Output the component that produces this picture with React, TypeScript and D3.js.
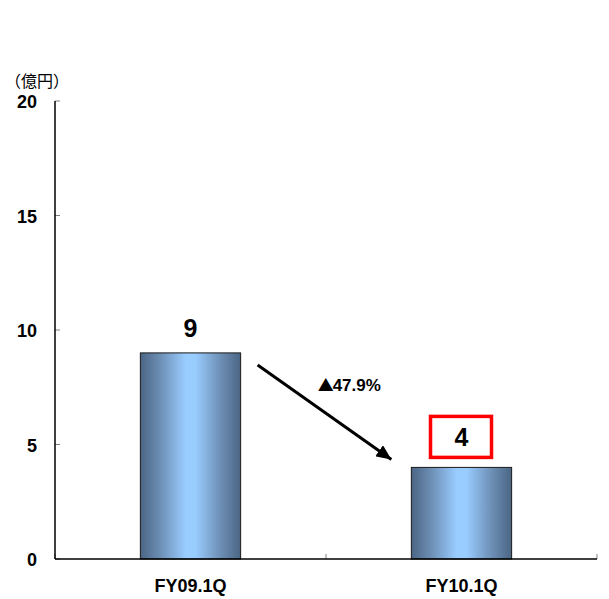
import * as d3 from 'd3'

const categories = ['FY09.1Q', 'FY10.1Q']
const values = [9, 4]
const yTicks = [0, 5, 10, 15, 20]
const unitLabel = '（億円）'
const changeMark = '▲'
const changeLabel = '47.9%'

const W = 609
const H = 599
const margin = { top: 101, right: 12, bottom: 40, left: 55 }

export default function App() {
  const innerW = W - margin.left - margin.right
  const innerH = H - margin.top - margin.bottom

  const x = d3.scaleBand<string>().domain(categories).range([0, innerW]).paddingInner(0.63).paddingOuter(0.315)
  const y = d3.scaleLinear().domain([0, 20]).range([innerH, 0])
  const bw = x.bandwidth()

  const x0 = (x(categories[0]) ?? 0) + bw / 2
  const x1 = (x(categories[1]) ?? 0) + bw / 2

  // arrow from right of first bar down towards second bar
  const ax1 = (x(categories[0]) ?? 0) + bw + 17
  const ay1 = y(values[0]) + 12
  const ax2 = (x(categories[1]) ?? 0) - 20
  const ay2 = y(values[1]) - 8

  const font = '"Liberation Sans", Arial, "Noto Sans CJK JP", sans-serif'

  return (
    <svg width={W} height={H} style={{ display: 'block', position: 'absolute', left: 0, top: 0 }} fontFamily={font}>
      <defs>
        <linearGradient id="barGrad" x1="0" x2="1" y1="0" y2="0">
          <stop offset="0" stopColor="#4b6584" />
          <stop offset="0.2" stopColor="#6d8fb5" />
          <stop offset="0.45" stopColor="#99ccff" />
          <stop offset="0.55" stopColor="#99ccff" />
          <stop offset="0.8" stopColor="#6d8fb5" />
          <stop offset="1" stopColor="#4b6584" />
        </linearGradient>
        <marker id="arrowHead" viewBox="0 0 10 10" refX="10" refY="5" markerWidth="5" markerHeight="4.5" orient="auto" preserveAspectRatio="none">
          <path d="M0,0 L10,5 L0,10 z" fill="#000" />
        </marker>
      </defs>
      <text x={5} y={87} fontSize={16} fill="#000" fontFamily='"Noto Sans CJK JP", sans-serif'>{unitLabel}</text>
      <g transform={`translate(${margin.left},${margin.top})`}>
        {yTicks.map((t) => (
          <g key={t}>
            <line x1={0} x2={5} y1={y(t)} y2={y(t)} stroke="#808080" strokeWidth={1} />
            <text x={-18} y={y(t) + 7} textAnchor="end" fontSize={18} fontWeight="bold" fill="#000">{t}</text>
          </g>
        ))}
        {[0, 1, 2].map((i) => (
          <line key={i} x1={i * (innerW / 2)} x2={i * (innerW / 2)} y1={innerH} y2={innerH - 5} stroke="#808080" strokeWidth={1} />
        ))}
        {categories.map((c, i) => (
          <g key={c}>
            <rect
              x={x(c)}
              y={y(values[i])}
              width={bw}
              height={innerH - y(values[i])}
              fill="url(#barGrad)"
              stroke="#1a1a1a"
              strokeWidth={1}
            />
            <text x={(x(c) ?? 0) + bw / 2} y={innerH + 33} textAnchor="middle" fontSize={18} fontWeight="bold" fill="#000">{c}</text>
          </g>
        ))}
        <line x1={0} x2={0} y1={0} y2={innerH} stroke="#000" strokeWidth={1.5} />
        <line x1={0} x2={innerW} y1={innerH} y2={innerH} stroke="#000" strokeWidth={1.5} />
        <text x={x0} y={y(values[0]) - 16} textAnchor="middle" fontSize={25} fontWeight="bold" fill="#000">{values[0]}</text>
        <rect x={x1 - 31} y={y(values[1]) - 51} width={61} height={41} fill="#fff" stroke="#ff0000" strokeWidth={3.5} />
        <text x={x1} y={y(values[1]) - 21} textAnchor="middle" fontSize={25} fontWeight="bold" fill="#000">{values[1]}</text>
        <line x1={ax1} y1={ay1} x2={ax2} y2={ay2} stroke="#000" strokeWidth={3} markerEnd="url(#arrowHead)" />
        <text x={ax1 + 60} y={y(values[0]) + 38} fontSize={17} fontWeight="bold" fill="#000">
          <tspan fontFamily='"Noto Sans CJK JP", sans-serif' fontSize={16}>{changeMark}</tspan>
          <tspan dx={-1}>{changeLabel}</tspan>
        </text>
      </g>
    </svg>
  )
}
